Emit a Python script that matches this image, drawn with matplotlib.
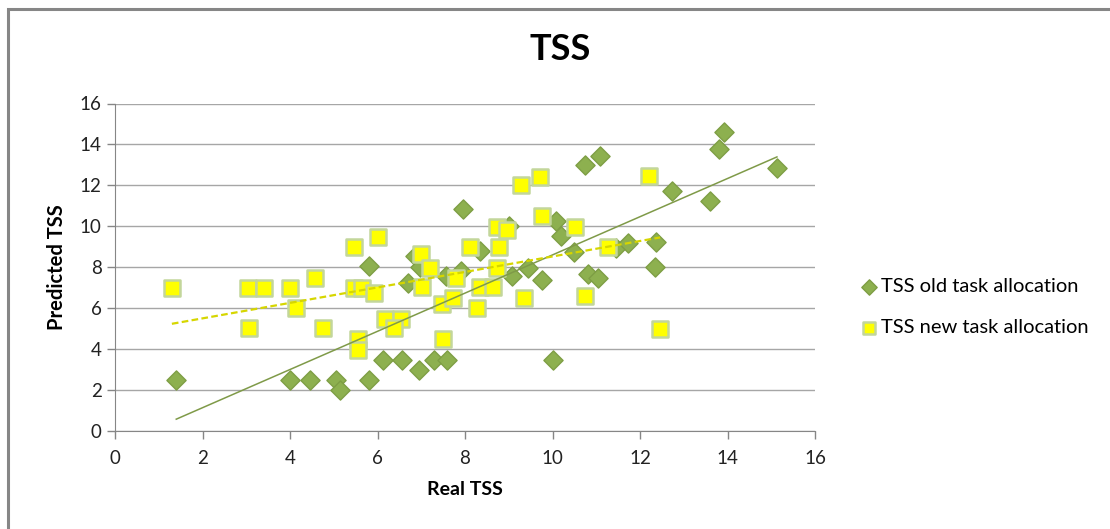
import numpy as np
import matplotlib.pyplot as plt
from matplotlib.patches import Rectangle

plt.rcParams['font.family'] = ['Lato', 'DejaVu Sans']

# TSS old task allocation (real, predicted)
old_real = [1.4, 4.0, 4.45, 5.05, 5.15, 5.8, 5.8, 6.12, 6.55, 6.7, 6.85, 6.95, 6.97,
            7.3, 7.58, 7.56, 7.9, 7.95, 8.35, 9.0, 9.08, 9.45, 9.75, 10.0, 10.08,
            10.2, 10.5, 10.75, 10.8, 11.03, 11.08, 11.45, 11.72, 12.35, 12.37, 12.73,
            13.6, 13.8, 13.93, 15.13]
old_pred = [2.5, 2.5, 2.5, 2.5, 1.98, 2.5, 8.05, 3.46, 3.46, 7.2, 8.53, 2.97, 8.0,
            3.46, 3.46, 7.55, 7.8, 10.83, 8.8, 10.0, 7.55, 7.95, 7.36, 3.46, 10.25,
            9.51, 8.75, 12.98, 7.65, 7.45, 13.43, 8.95, 9.17, 8.0, 9.22, 11.72,
            11.23, 13.77, 14.6, 12.84]

# TSS new task allocation (real, predicted)
new_real = [1.3, 3.04, 3.4, 4.01, 4.58, 4.13, 3.07, 4.75, 5.46, 5.46, 5.65, 5.55, 5.55,
            6.0, 5.93, 6.16, 6.54, 6.38, 7.0, 7.02, 7.2, 7.48, 7.5, 7.72, 7.79, 8.11,
            8.28, 8.34, 8.64, 8.73, 8.78, 8.72, 8.95, 9.28, 9.35, 9.72, 9.75, 10.51,
            10.74, 11.27, 12.2, 12.46]
new_pred = [7.0, 7.0, 7.0, 7.0, 7.48, 6.01, 5.0, 5.0, 9.0, 7.0, 7.0, 4.5, 3.95,
            9.49, 6.75, 5.45, 5.45, 5.0, 8.64, 7.01, 7.94, 6.2, 4.47, 6.47, 7.45, 8.97,
            5.98, 7.01, 7.01, 7.94, 9.0, 9.98, 9.81, 12.01, 6.47, 12.42, 10.5, 9.98,
            6.59, 9.0, 12.45, 4.99]

old_real = np.array(old_real)
old_pred = np.array(old_pred)
new_real = np.array(new_real)
new_pred = np.array(new_pred)

fig = plt.figure(figsize=(11.1, 5.29), dpi=100)
ax = fig.add_axes([115 / 1110, 1 - 430.7 / 529, 700 / 1110, 327.2 / 529])

# chart frame (only top and left visible, like the cropped screenshot)
fig.patches.append(Rectangle((8 / 1110, -0.05), 1.1, 1 - 9 / 529 + 0.05,
                             transform=fig.transFigure, fill=False,
                             edgecolor='#868686', linewidth=2.2))

ax.scatter(old_real, old_pred, marker='D', s=95, color='#8DB04F',
           edgecolors='#7E9E44', linewidths=1, zorder=3, label='TSS old task allocation')
ax.scatter(new_real, new_pred, marker='s', s=135, color='#FFFF00',
           edgecolors='#C3D69B', linewidths=1.8, zorder=4, label='TSS new task allocation')

# linear trendlines
b1, a1 = np.polyfit(old_real, old_pred, 1)
xs = np.array([old_real.min(), old_real.max()])
ax.plot(xs, a1 + b1 * xs, color='#7F9A48', linewidth=1.1, zorder=5)

b2, a2 = np.polyfit(new_real, new_pred, 1)
xs = np.array([new_real.min(), new_real.max()])
ax.plot(xs, a2 + b2 * xs, color='#D6D600', linewidth=1.6, linestyle=(0, (3, 1.5)), zorder=5)

ax.set_xlim(0, 16)
ax.set_ylim(0, 16)
ax.set_xticks(np.arange(0, 17, 2))
ax.set_yticks(np.arange(0, 17, 2))
ax.grid(axis='y', color='#A6A6A6', linewidth=1)
ax.set_axisbelow(True)
for side in ['top', 'right']:
    ax.spines[side].set_visible(False)
for side in ['left', 'bottom']:
    ax.spines[side].set_color('#868686')
ax.tick_params(colors='#868686', labelcolor='#222222', labelsize=13.5, length=6, width=1)
ax.tick_params(axis='x', pad=8)

ax.set_xlabel('Real TSS', fontsize=14, fontweight='bold', labelpad=10)
ax.set_ylabel('Predicted TSS', fontsize=14.5, fontweight='bold', labelpad=9)
fig.text(0.505, 1 - 50 / 529, 'TSS', fontsize=26, fontweight='bold', ha='center', va='center')

fig.legend(loc='center left', bbox_to_anchor=(851 / 1110, 1 - 307 / 529), frameon=False,
           fontsize=14.5, markerscale=0.8, handlelength=0.8, handletextpad=0.2,
           labelspacing=1.2, borderpad=0)

fig.savefig('out.png', dpi=100)
